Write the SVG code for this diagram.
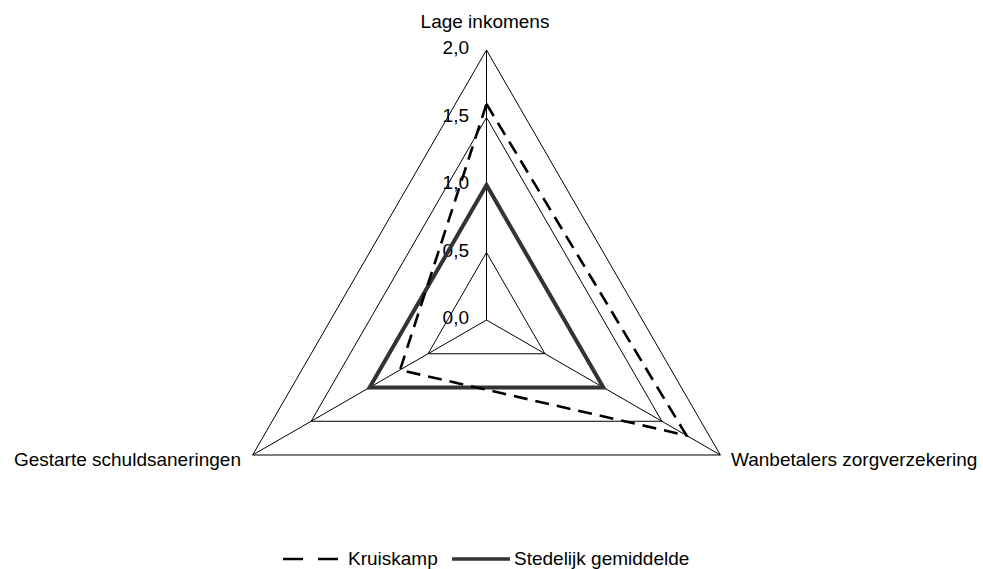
<svg xmlns="http://www.w3.org/2000/svg" width="983" height="569" viewBox="0 0 983 569">
<style>
text{font-family:"Liberation Sans",Arial,sans-serif;font-size:19px;fill:#000}
.grid{fill:none;stroke:#000;stroke-width:1}
.kr{fill:none;stroke:#000;stroke-width:2.6;stroke-dasharray:14 8;stroke-linejoin:miter}
.st{fill:none;stroke:#333;stroke-width:4;stroke-linejoin:miter}
.tick{text-anchor:end}
</style>
<rect width="983" height="569" fill="#fff"/>
<g id="grid">
<polygon class="grid" points="486.5,252.5 544.96,353.75 428.04,353.75"/>
<polygon class="grid" points="486.5,185 603.41,387.5 369.59,387.5"/>
<polygon class="grid" points="486.5,117.5 661.87,421.25 311.13,421.25"/>
<polygon class="grid" points="486.5,50 720.33,455 252.67,455"/>
<line class="grid" x1="486.5" y1="320" x2="486.5" y2="50"/>
<line class="grid" x1="486.5" y1="320" x2="720.33" y2="455"/>
<line class="grid" x1="486.5" y1="320" x2="252.67" y2="455"/>
</g>
<g id="ticks">
<text class="tick" x="469" y="54">2,0</text>
<text class="tick" x="469" y="122">1,5</text>
<text class="tick" x="469" y="189">1,0</text>
<text class="tick" x="469" y="257">0,5</text>
<text class="tick" x="469" y="324">0,0</text>
</g>
<g id="axis-labels">
<text id="lage-inkomens" x="485" y="28" text-anchor="middle">Lage inkomens</text>
<text id="wanbetalers" x="731" y="466">Wanbetalers zorgverzekering</text>
<text id="gestarte" x="241" y="466" text-anchor="end">Gestarte schuldsaneringen</text>
</g>
<g id="series">
<polygon id="stedelijk" class="st" points="486.5,185 603.41,387.5 369.59,387.5"/>
<polygon id="kruiskamp" class="kr" points="486.5,104 686.4,435.4 400,370"/>
</g>
<g id="legend">
<line x1="283" y1="559" x2="338" y2="559" stroke="#000" stroke-width="2.6" stroke-dasharray="20 15"/>
<text x="348" y="565">Kruiskamp</text>
<line x1="452" y1="559" x2="510" y2="559" stroke="#333" stroke-width="3.5"/>
<text x="514" y="565">Stedelijk gemiddelde</text>
</g>
</svg>
